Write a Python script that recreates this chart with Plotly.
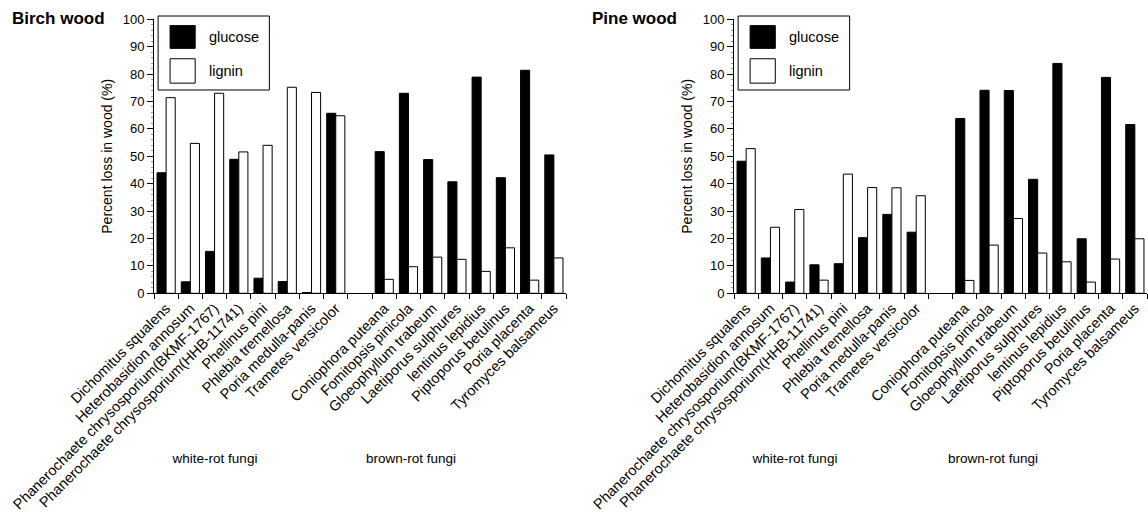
import plotly.graph_objects as go

white_rot = ["Dichomitus squalens", "Heterobasidion annosum",
             "Phanerochaete chrysosporium(BKMF-1767)",
             "Phanerochaete chrysosporium(HHB-11741)", "Phellinus pini",
             "Phlebia tremellosa", "Poria medulla-panis", "Trametes versicolor"]
brown_rot = ["Coniophora puteana", "Fomitopsis pinicola", "Gloeophyllum trabeum",
             "Laetiporus sulphures", "lentinus lepidius", "Piptoporus betulinus",
             "Poria placenta", "Tyromyces balsameus"]
group_names = ["white-rot fungi", "brown-rot fungi"]

birch_glucose_white = [44.0, 4.2, 15.3, 48.9, 5.5, 4.3, 0.3, 65.7]
birch_lignin_white = [71.4, 54.7, 73.0, 51.6, 54.0, 75.2, 73.3, 64.8]
birch_glucose_brown = [51.7, 73.0, 48.8, 40.7, 78.9, 42.2, 81.4, 50.5]
birch_lignin_brown = [5.1, 9.7, 13.2, 12.4, 8.0, 16.6, 4.8, 12.9]

pine_glucose_white = [48.2, 12.9, 4.1, 10.4, 10.8, 20.3, 28.8, 22.3]
pine_lignin_white = [52.8, 24.1, 30.6, 4.8, 43.5, 38.6, 38.5, 35.6]
pine_glucose_brown = [63.8, 74.1, 74.0, 41.6, 83.9, 19.9, 78.8, 61.6]
pine_lignin_brown = [4.7, 17.6, 27.3, 14.7, 11.5, 4.1, 12.5, 19.9]

y_ticks = list(range(0, 101, 10))

FONT = "Liberation Sans, Arial, Helvetica, sans-serif"
GAP = " "
cats = white_rot + [GAP] + brown_rot

W, H = 1148, 512

fig = go.Figure()

panels = [
    ("x", "y", birch_glucose_white + [None] + birch_glucose_brown,
     birch_lignin_white + [None] + birch_lignin_brown),
    ("x2", "y2", pine_glucose_white + [None] + pine_glucose_brown,
     pine_lignin_white + [None] + pine_lignin_brown),
]

for xa, ya, glu, lig in panels:
    fig.add_trace(go.Bar(x=cats, y=glu, name="glucose", xaxis=xa, yaxis=ya,
                         marker=dict(color="black", line=dict(color="black", width=1)),
                         showlegend=False))
    fig.add_trace(go.Bar(x=cats, y=lig, name="lignin", xaxis=xa, yaxis=ya,
                         marker=dict(color="white", line=dict(color="black", width=1)),
                         showlegend=False))

# group labels under each panel, on a full-figure pixel overlay axis
group_px_x = [215, 411, 795, 993]
fig.add_trace(go.Scatter(x=group_px_x, y=[460] * 4, text=group_names * 2, mode="text",
                         textposition="middle center", xaxis="x3", yaxis="y3",
                         textfont=dict(family=FONT, size=13.5, color="black"),
                         hoverinfo="skip", showlegend=False))

axis_common_x = dict(
    type="category", categoryorder="array", categoryarray=cats,
    tickson="boundaries", ticks="outside", ticklen=5, tickcolor="black",
    showline=True, linecolor="black", linewidth=1, tickangle=-45,
    tickfont=dict(family=FONT, size=14.5, color="black"),
    showgrid=False, zeroline=False, automargin=False,
)
axis_common_y = dict(
    range=[0, 100], tickvals=y_ticks, ticks="outside", ticklen=6,
    tickcolor="black", showline=True, linecolor="black", linewidth=1,
    tickfont=dict(family=FONT, size=13, color="black"),
    title=dict(text="Percent loss in wood (%)", font=dict(family=FONT, size=14, color="black"),
               standoff=6),
    minor=dict(dtick=2, ticks="outside", ticklen=2.5, tickcolor="#999"),
    showgrid=False, zeroline=False, automargin=False,
)

ydom = [(H - 293.3) / H, (H - 19.3) / H]

fig.update_layout(
    width=W, height=H,
    margin=dict(l=0, r=0, t=0, b=0),
    paper_bgcolor="white", plot_bgcolor="rgba(0,0,0,0)",
    barmode="group", bargap=0.25, bargroupgap=0,
    xaxis=dict(domain=[154 / W, 566 / W], anchor="y", **axis_common_x),
    yaxis=dict(domain=ydom, anchor="x", **axis_common_y),
    xaxis2=dict(domain=[734 / W, 1147 / W], anchor="y2", **axis_common_x),
    yaxis2=dict(domain=ydom, anchor="x2", **axis_common_y),
    xaxis3=dict(domain=[0, 1], range=[0, W], visible=False, anchor="y3", fixedrange=True),
    yaxis3=dict(domain=[0, 1], range=[H, 0], visible=False, anchor="x3", fixedrange=True),
)

# legends drawn as boxes in each panel
for xa, ya, glu, lig in panels:
    xd = f"{xa} domain"
    yd = f"{ya} domain"
    fig.add_shape(type="rect", xref=xd, yref=yd, x0=0.01, x1=0.28, y0=0.742, y1=1.012,
                  line=dict(color="black", width=1), fillcolor="white", layer="above")
    fig.add_shape(type="rect", xref=xd, yref=yd, x0=0.039, x1=0.10, y0=0.894, y1=0.977,
                  line=dict(color="black", width=1), fillcolor="black", layer="above")
    fig.add_shape(type="rect", xref=xd, yref=yd, x0=0.039, x1=0.10, y0=0.767, y1=0.856,
                  line=dict(color="black", width=1), fillcolor="white", layer="above")
    fig.add_annotation(xref=xd, yref=yd, x=0.128, y=0.935, text="glucose", showarrow=False,
                       xanchor="left", yanchor="middle",
                       font=dict(family=FONT, size=14.5, color="black"))
    fig.add_annotation(xref=xd, yref=yd, x=0.128, y=0.811, text="lignin", showarrow=False,
                       xanchor="left", yanchor="middle",
                       font=dict(family=FONT, size=14.5, color="black"))

fig.add_annotation(xref="paper", yref="paper", x=10 / W, y=(H - 18) / H, text="<b>Birch wood</b>",
                   showarrow=False, xanchor="left", yanchor="middle",
                   font=dict(family=FONT, size=17, color="black"))
fig.add_annotation(xref="paper", yref="paper", x=590 / W, y=(H - 18) / H, text="<b>Pine wood</b>",
                   showarrow=False, xanchor="left", yanchor="middle",
                   font=dict(family=FONT, size=17, color="black"))

fig.write_html("out.html")
